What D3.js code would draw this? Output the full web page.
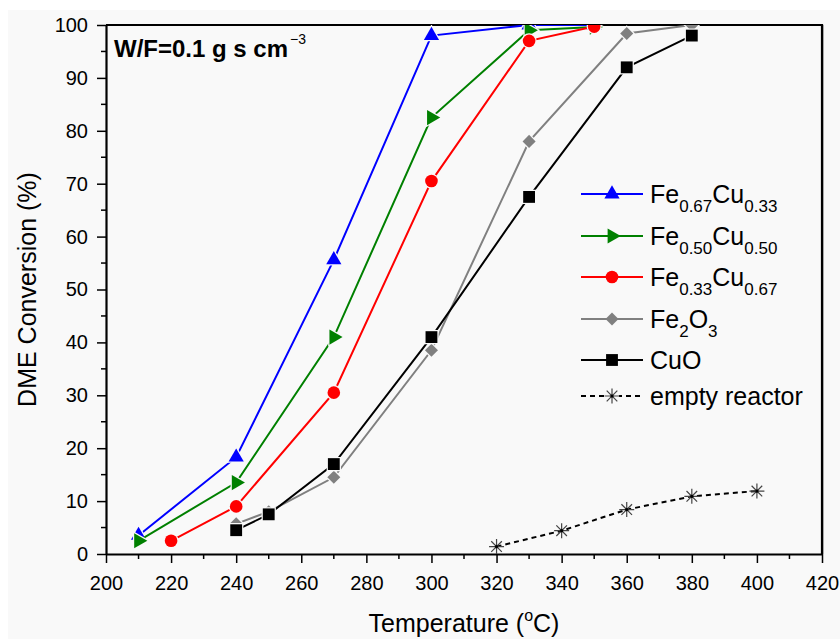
<!DOCTYPE html>
<html>
<head>
<meta charset="utf-8">
<script src="https://cdn.jsdelivr.net/npm/d3@7"></script>
<style>
  body { margin: 0; background: #fff; }
  text { font-family: "Liberation Sans", Arial, sans-serif; fill: #000; }
</style>
</head>
<body>
<div id="chart"></div>
<script>
// Data
const tempA = [210, 240, 270, 300, 330, 350];
const fe67cu33 = [3.5, 18.3, 55.6, 98, 100, 100];
const fe50cu50 = [2.5, 13.5, 41, 82.5, 99, 99.6];
const tempB = [220, 240, 270, 300, 330, 350];
const fe33cu67 = [2.5, 9, 30.5, 70.5, 97, 99.7];
const tempC = [240, 250, 270, 300, 330, 360, 380];
const fe2o3 = [5.7, 8, 14.5, 38.5, 78, 98.4, 100];
const cuo = [4.5, 7.5, 17, 41, 67.5, 92, 98];
const tempEmpty = [320, 340, 360, 380, 400];
const emptyReactor = [1.4, 4.4, 8.4, 10.9, 11.9];

const xTicks = d3.range(200, 421, 20);
const yTicks = d3.range(0, 101, 10);

const width = 840, height = 639;
const margin = { top: 25, right: 18, bottom: 85, left: 106 };
const plotW = width - margin.left - margin.right;
const plotH = height - margin.top - margin.bottom;

const x = d3.scaleLinear().domain([200, 420]).range([0, plotW]);
const y = d3.scaleLinear().domain([0, 100]).range([plotH, 0]);

const svg = d3.select("#chart")
  .append("svg")
  .attr("width", width)
  .attr("height", height);

// light grey page panel
svg.append("rect")
  .attr("x", 8).attr("y", 10)
  .attr("width", width - 8).attr("height", height - 10)
  .attr("fill", "#f9f9f9");

const g = svg.append("g")
  .attr("transform", `translate(${margin.left},${margin.top})`);

g.append("clipPath").attr("id", "clip")
  .append("rect").attr("width", plotW).attr("height", plotH);

// Axes
const xAxis = g.append("g")
  .attr("transform", `translate(0,${plotH})`)
  .call(d3.axisBottom(x).tickValues(xTicks).tickSize(9).tickSizeOuter(0).tickPadding(13));
xAxis.selectAll(".tick")
  .filter(d => d === 420)
  .select("line").attr("y1", -plotH).attr("y2", 9);
xAxis.selectAll("text").attr("font-size", 20);
xAxis.append("g").selectAll("line")
  .data(d3.range(210, 420, 20))
  .join("line")
  .attr("x1", d => x(d)).attr("x2", d => x(d))
  .attr("y1", 0).attr("y2", 5)
  .attr("stroke", "#000").attr("stroke-width", 1.5);

const yAxis = g.append("g")
  .call(d3.axisLeft(y).tickValues(yTicks).tickSize(9).tickSizeOuter(0).tickPadding(9));
yAxis.selectAll("text").attr("font-size", 20);
yAxis.append("g").selectAll("line")
  .data(d3.range(5, 100, 10))
  .join("line")
  .attr("y1", d => y(d)).attr("y2", d => y(d))
  .attr("x1", 0).attr("x2", -5)
  .attr("stroke", "#000").attr("stroke-width", 1.5);

g.selectAll(".domain").attr("stroke-width", 2.2);
g.selectAll(".tick line").attr("stroke-width", 1.5);

// frame top and right
g.append("path")
  .attr("d", `M0,0H${plotW}V${plotH}`)
  .attr("fill", "none")
  .attr("stroke", "#000")
  .attr("stroke-width", 2.2);

// Series
const series = [
  { name: "empty", t: tempEmpty, v: emptyReactor, color: "#000", mark: "star", dash: "5,4" },
  { name: "fe67", t: tempA, v: fe67cu33, color: "#0000ff", mark: "tri" },
  { name: "fe50", t: tempA, v: fe50cu50, color: "#008000", mark: "rtri" },
  { name: "fe33", t: tempB, v: fe33cu67, color: "#ff0000", mark: "circle" },
  { name: "fe2o3", t: tempC, v: fe2o3, color: "#808080", mark: "diamond" },
  { name: "cuo", t: tempC, v: cuo, color: "#000000", mark: "square" }
];

const line = d3.line().x(d => x(d[0])).y(d => y(d[1]));

function markerPath(kind) {
  switch (kind) {
    case "tri": return d3.symbol(d3.symbolTriangle, 100)();
    case "rtri": return d3.symbol(d3.symbolTriangle, 100)();
    case "circle": return d3.symbol(d3.symbolCircle, 125)();
    case "diamond": return d3.symbol(d3.symbolSquare, 85)();
    case "square": return d3.symbol(d3.symbolSquare, 140)();
    case "star": {
      const r = 7.5, q = r * Math.SQRT1_2;
      return `M0,${-r}V${r}M${-r},0H${r}M${-q},${-q}L${q},${q}M${-q},${q}L${q},${-q}`;
    }
  }
}
function markerRotate(kind) {
  if (kind === "rtri") return 90;
  if (kind === "diamond") return 45;
  return 0;
}

const plot = g.append("g").attr("clip-path", "url(#clip)");

series.forEach(s => {
  const pts = s.t.map((t, i) => [t, s.v[i]]);
  const sg = plot.append("g");
  sg.append("path")
    .datum(pts)
    .attr("d", line)
    .attr("fill", "none")
    .attr("stroke", s.color)
    .attr("stroke-width", 2)
    .attr("stroke-dasharray", s.dash || null);
  const marks = sg.selectAll(".m")
    .data(pts)
    .join("g")
    .attr("transform", d => `translate(${x(d[0])},${y(d[1])}) rotate(${markerRotate(s.mark)})`);
  if (s.mark === "star") {
    marks.append("path")
      .attr("d", markerPath("star"))
      .attr("stroke", "#444").attr("stroke-width", 1.2).attr("fill", "none");
    marks.append("circle").attr("r", 1.6).attr("fill", "#000");
  } else {
    marks.append("path")
      .attr("d", markerPath(s.mark))
      .attr("fill", s.color)
      .attr("stroke", "#f9f9f9")
      .attr("stroke-width", 2.5)
      .attr("paint-order", "stroke");
  }
});

// Legend
const legendItems = [
  { key: "fe67", parts: [["Fe", 0], ["0.67", 1], ["Cu", 0], ["0.33", 1]] },
  { key: "fe50", parts: [["Fe", 0], ["0.50", 1], ["Cu", 0], ["0.50", 1]] },
  { key: "fe33", parts: [["Fe", 0], ["0.33", 1], ["Cu", 0], ["0.67", 1]] },
  { key: "fe2o3", parts: [["Fe", 0], ["2", 1], ["O", 0], ["3", 1]] },
  { key: "cuo", parts: [["CuO", 0]] },
  { key: "empty", parts: [["empty reactor", 0]] }
];
const legendY = [194, 236, 277, 319, 360, 396];
const legend = svg.append("g");
legendItems.forEach((item, i) => {
  const s = series.find(d => d.name === item.key);
  const row = legend.append("g").attr("transform", `translate(581,${legendY[i]})`);
  row.append("line")
    .attr("x1", 0).attr("x2", 62)
    .attr("stroke", s.color).attr("stroke-width", 2)
    .attr("stroke-dasharray", s.dash || null);
  const m = row.append("g").attr("transform", `translate(31,0) rotate(${markerRotate(s.mark)})`);
  if (s.mark === "star") {
    m.append("rect").attr("x", -7).attr("y", -3).attr("width", 14).attr("height", 6).attr("fill", "#f9f9f9");
    m.append("path").attr("d", markerPath("star")).attr("stroke", "#444").attr("stroke-width", 1.2).attr("fill", "none");
    m.append("circle").attr("r", 1.6).attr("fill", "#000");
  } else {
    m.append("path").attr("d", markerPath(s.mark)).attr("fill", s.color);
  }
  const txt = row.append("text")
    .attr("x", 69).attr("y", 9)
    .attr("font-size", 25);
  let shifted = 0;
  item.parts.forEach(([str, sub]) => {
    const dy = (sub ? 9 : 0) - shifted;
    shifted = sub ? 9 : 0;
    txt.append("tspan")
      .attr("dy", dy)
      .attr("font-size", sub ? 17 : 25)
      .text(str);
  });
});

// Annotation
const ann = svg.append("text")
  .attr("x", 114).attr("y", 57)
  .attr("font-size", 24)
  .attr("font-weight", "bold");
ann.append("tspan").text("W/F=0.1 g s cm");
ann.append("tspan").attr("dx", 2).attr("dy", -13).attr("font-size", 14).attr("font-weight", "normal").text("\u22123");

// Axis titles
svg.append("text")
  .attr("transform", `translate(36,${margin.top + plotH / 2}) rotate(-90)`)
  .attr("text-anchor", "middle")
  .attr("font-size", 25)
  .text("DME Conversion (%)");

const xt = svg.append("text")
  .attr("x", margin.left + plotW / 2)
  .attr("y", 632)
  .attr("text-anchor", "middle")
  .attr("font-size", 25);
xt.append("tspan").text("Temperature (");
xt.append("tspan").attr("dy", -11).attr("font-size", 16).text("o");
xt.append("tspan").attr("dy", 11).text("C)");
</script>
</body>
</html>
